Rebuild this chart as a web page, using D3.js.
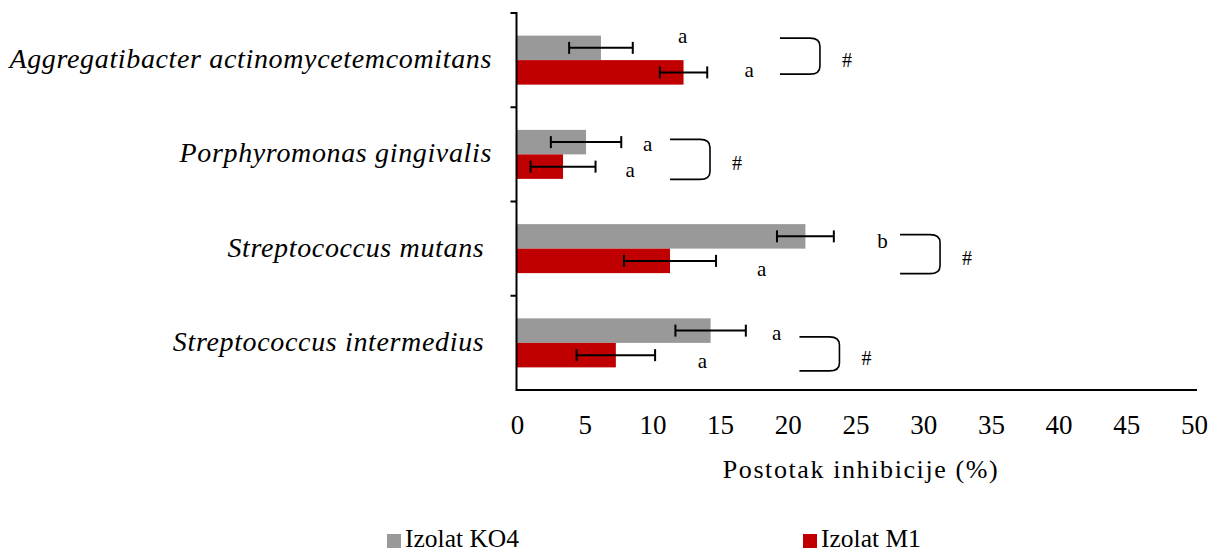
<!DOCTYPE html>
<html><head><meta charset="utf-8">
<script src="https://cdn.jsdelivr.net/npm/d3@7/dist/d3.min.js"></script>
<style>
body{margin:0;background:#fff;}
svg{display:block;font-family:"Liberation Serif","Times New Roman",serif;}
</style></head>
<body><svg id="c" width="1220" height="553"></svg>
<script>
// ---- data ----
const categories = ["Aggregatibacter actinomycetemcomitans", "Porphyromonas gingivalis", "Streptococcus mutans ", "Streptococcus intermedius "];
const seriesNames = ["Izolat KO4", "Izolat M1"];
const ko4Values = [6.2, 5.1, 21.3, 14.3];
const ko4Errors = [2.35, 2.6, 2.1, 2.6];
const m1Values = [12.3, 3.4, 11.3, 7.3];
const m1Errors = [1.75, 2.4, 3.4, 2.9];
const ko4Letters = ["a", "a", "b", "a"];
const m1Letters = ["a", "a", "a", "a"];
const ko4LetterX = [12.24, 9.65, 27.0, 19.18];
const m1LetterX = [17.14, 8.35, 18.07, 13.69];
const bracketX = [19.42, 11.3, 28.29, 20.86];
const bracketMarks = ["#", "#", "#", "#"];
const xTicks = [0, 5, 10, 15, 20, 25, 30, 35, 40, 45, 50];
const xTitle = "Postotak inhibicije (%)";
const colors = ["#999999", "#C00000"];

// ---- layout ----
const svg = d3.select("#c");
const x = d3.scaleLinear().domain([0, 50]).range([517, 1194]);
const y = d3.scaleBand().domain(categories).range([13, 390]).paddingInner(0.48).paddingOuter(0.24);
const sub = d3.scaleBand().domain(seriesNames).range([0, y.bandwidth()]);

const rows = categories.map((c, i) => ({
  c, i,
  series: [
    {name: seriesNames[0], v: ko4Values[i], e: ko4Errors[i], letter: ko4Letters[i], lx: ko4LetterX[i], color: colors[0]},
    {name: seriesNames[1], v: m1Values[i], e: m1Errors[i], letter: m1Letters[i], lx: m1LetterX[i], color: colors[1]}
  ]
}));

// bars
const g = svg.append("g");
rows.forEach(r => {
  r.series.forEach(s => {
    const y0 = y(r.c) + sub(s.name);
    g.append("rect").attr("x", x(0)).attr("y", y0).attr("width", x(s.v) - x(0)).attr("height", sub.bandwidth()).attr("fill", s.color);
  });
});
// error bars
rows.forEach(r => {
  r.series.forEach(s => {
    const cy = y(r.c) + sub(s.name) + sub.bandwidth() / 2;
    const x1 = x(s.v - s.e), x2 = x(s.v + s.e);
    g.append("line").attr("x1", x1).attr("x2", x2).attr("y1", cy).attr("y2", cy).attr("stroke", "#000").attr("stroke-width", 2);
    [x1, x2].forEach(xx => g.append("line").attr("x1", xx).attr("x2", xx).attr("y1", cy - 6).attr("y2", cy + 6).attr("stroke", "#000").attr("stroke-width", 2));
  });
});

// axes
const yAx = svg.append("g").attr("transform", "translate(516.5,0)");
yAx.append("line").attr("x1", 0).attr("x2", 0).attr("y1", 12).attr("y2", 391).attr("stroke", "#000").attr("stroke-width", 2);
const step = y.step();
const bounds = [0, 1, 2, 3].map(i => y.range()[0] + i * step);
yAx.selectAll(".bt").data(bounds).enter().append("line").attr("x1", -6).attr("x2", 0).attr("y1", d => d).attr("y2", d => d).attr("stroke", "#000").attr("stroke-width", 2);

svg.append("line").attr("x1", 516).attr("x2", 1197).attr("y1", 390).attr("y2", 390).attr("stroke", "#000").attr("stroke-width", 2);
const xAxis = d3.axisBottom(x).tickValues(xTicks).tickSize(0).tickPadding(25).tickFormat(d3.format("d"));
const xg = svg.append("g").attr("transform", "translate(0,390)").call(xAxis);
xg.select(".domain").remove();
xg.selectAll("text").attr("font-size", 27).attr("fill", "#000").attr("font-family", "Liberation Serif");

// category labels
svg.selectAll(".cat").data(categories).enter().append("text")
  .attr("x", 492).attr("y", d => y(d) + y.bandwidth() / 2 + 8)
  .attr("text-anchor", "end").attr("font-size", 28).attr("font-style", "italic")
  .style("letter-spacing", "0.65px").style("white-space", "pre").text(d => d);

// axis title
svg.append("text").attr("x", 861).attr("y", 478).attr("text-anchor", "middle").attr("font-size", 26)
  .style("letter-spacing", "1.6px").text(xTitle);

// letters
const letterDy = [[-10, 0], [4, 5], [7, 10], [4, 8]];
rows.forEach(r => {
  r.series.forEach((s, j) => {
    const cy = y(r.c) + sub(s.name) + sub.bandwidth() / 2 + letterDy[r.i][j];
    svg.append("text").attr("x", x(s.lx)).attr("y", cy + 5).attr("text-anchor", "middle").attr("font-size", 21).text(s.letter);
  });
});

// brackets
const bracketY = [[-22, 14], [-15, 25], [-14, 25], [-6, 28]];
rows.forEach(r => {
  const c = y(r.c) + y.bandwidth() / 2;
  const t = c + bracketY[r.i][0], b = c + bracketY[r.i][1];
  const x0 = x(bracketX[r.i]), x1 = x0 + 40;
  const p = `M${x0},${t} L${x1 - 10},${t} Q${x1},${t} ${x1},${t + 8} L${x1},${b - 8} Q${x1},${b} ${x1 - 10},${b} L${x0},${b}`;
  svg.append("path").attr("d", p).attr("fill", "none").attr("stroke", "#000").attr("stroke-width", 1.6);
  svg.append("text").attr("x", x1 + 27).attr("y", (t + b) / 2 + 11).attr("text-anchor", "middle").attr("font-size", 20).text(bracketMarks[r.i]);
});

// legend
const leg = [{n: seriesNames[0], c: colors[0], x: 387}, {n: seriesNames[1], c: colors[1], x: 803}];
leg.forEach(l => {
  svg.append("rect").attr("x", l.x).attr("y", 534).attr("width", 14).attr("height", 14).attr("fill", l.c);
  svg.append("text").attr("x", l.x + 18).attr("y", 547).attr("font-size", 25.5).text(l.n);
});
</script></body></html>
